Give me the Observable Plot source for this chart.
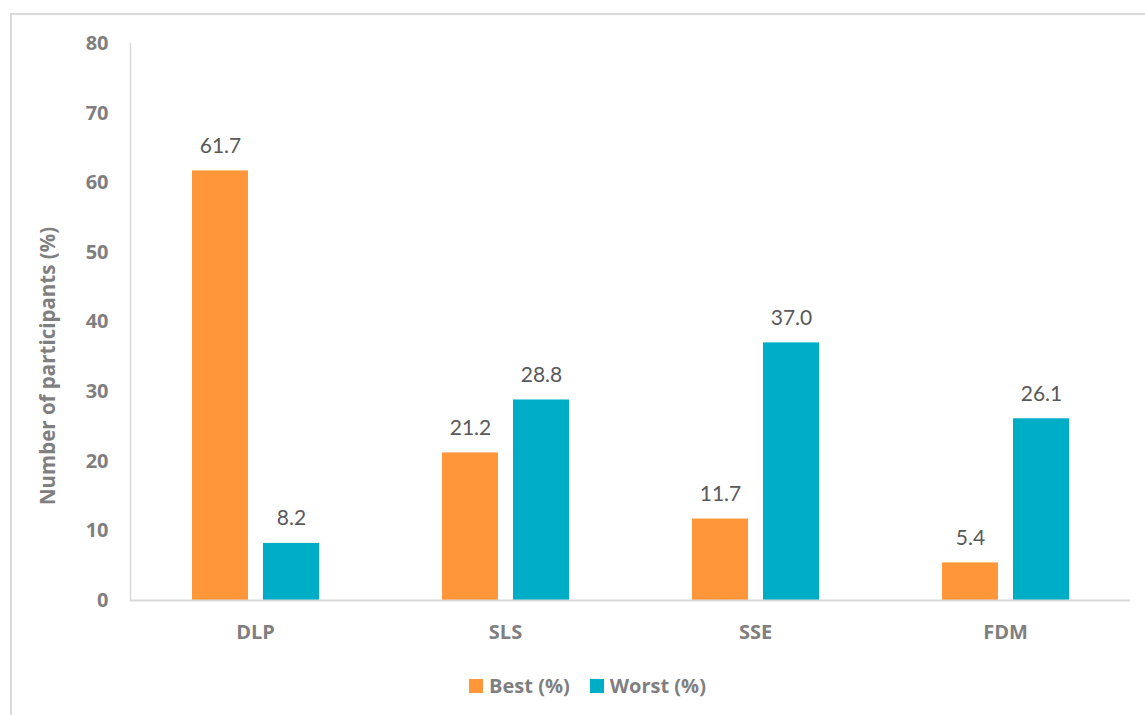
<!DOCTYPE html>
<html>
<head>
<meta charset="utf-8">
<script src="https://cdn.jsdelivr.net/npm/d3@7"></script>
<script src="https://cdn.jsdelivr.net/npm/@observablehq/plot@0.6"></script>
<style>
  html, body { margin: 0; padding: 0; background: #fff; }
  #wrap { position: relative; width: 1145px; height: 715px; overflow: hidden; font-family: Lato, sans-serif; }
  #border { position: absolute; left: 10px; top: 13px; width: 1300px; height: 900px; border: 2px solid #d9d9d9; box-sizing: border-box; }
  #chart { position: absolute; left: 0; top: 0; }
  #legend { position: absolute; top: 672px; left: 0; width: 1145px; display: flex; justify-content: center; gap: 20px; font: 700 20px "Open Sans", sans-serif; color: #7f7f7f; padding-left: 30px; box-sizing: border-box; }
  .item { display: flex; align-items: center; gap: 6px; }
  .sw { width: 14px; height: 14px; display: inline-block; }
</style>
</head>
<body>
<div id="wrap">
  <div id="border"></div>
  <div id="chart"></div>
  <div id="legend"></div>
</div>
<script>
const categories = ["DLP", "SLS", "SSE", "FDM"];
const seriesNames = ["Best (%)", "Worst (%)"];
const bestValues = [61.7, 21.2, 11.7, 5.4];
const worstValues = [8.2, 28.8, 37.0, 26.1];
const yTicks = [0, 10, 20, 30, 40, 50, 60, 70, 80];
const colors = ["#FF9639", "#00ADC6"];

const best = categories.map((c, i) => ({cat: c, value: bestValues[i]}));
const worst = categories.map((c, i) => ({cat: c, value: worstValues[i]}));

const labelStyle = {fill: "#595959", fontSize: 21, fontFamily: "Lato, sans-serif", textAnchor: "middle"};
const boldFont = "'Open Sans', sans-serif";

const chart = Plot.plot({
  width: 1145,
  height: 660,
  marginLeft: 130,
  marginRight: 15,
  marginTop: 43,
  marginBottom: 60,
  style: {fontFamily: "Lato, sans-serif", color: "#7f7f7f", background: "transparent"},
  x: {domain: categories, padding: 0},
  y: {domain: [0, 80]},
  marks: [
    Plot.frame({anchor: "left", stroke: "#d9d9d9", strokeWidth: 1.5}),
    Plot.barY(best, {x: "cat", y: "value", fill: colors[0], insetLeft: 97, insetRight: 97, dx: -35}),
    Plot.barY(worst, {x: "cat", y: "value", fill: colors[1], insetLeft: 97, insetRight: 97, dx: 36}),
    Plot.ruleY([0], {stroke: "#d9d9d9", strokeWidth: 2}),
    Plot.text(best, {x: "cat", y: "value", text: d => d.value.toFixed(1), dx: -35, dy: -25, ...labelStyle}),
    Plot.text(worst, {x: "cat", y: "value", text: d => d.value.toFixed(1), dx: 36, dy: -25, ...labelStyle}),
    Plot.axisY({ticks: yTicks, tickSize: 0, tickPadding: 22, fontSize: 20, fontWeight: 700, fontFamily: boldFont, label: null}),
    Plot.axisX({tickSize: 0, tickPadding: 24, fontSize: 20, fontWeight: 700, fontFamily: boldFont, label: null}),
    Plot.text(["Number of participants (%)"], {frameAnchor: "left", rotate: -90, dx: -82, dy: 44, fontSize: 20.5, fontWeight: 700, fontFamily: boldFont, fill: "#7f7f7f", textAnchor: "middle"})
  ]
});
document.getElementById("chart").appendChild(chart);

const legend = document.getElementById("legend");
seriesNames.forEach((name, i) => {
  const item = document.createElement("div");
  item.className = "item";
  const sw = document.createElement("span");
  sw.className = "sw";
  sw.style.background = colors[i];
  const t = document.createElement("span");
  t.textContent = name;
  item.appendChild(sw);
  item.appendChild(t);
  legend.appendChild(item);
});
</script>
</body>
</html>
